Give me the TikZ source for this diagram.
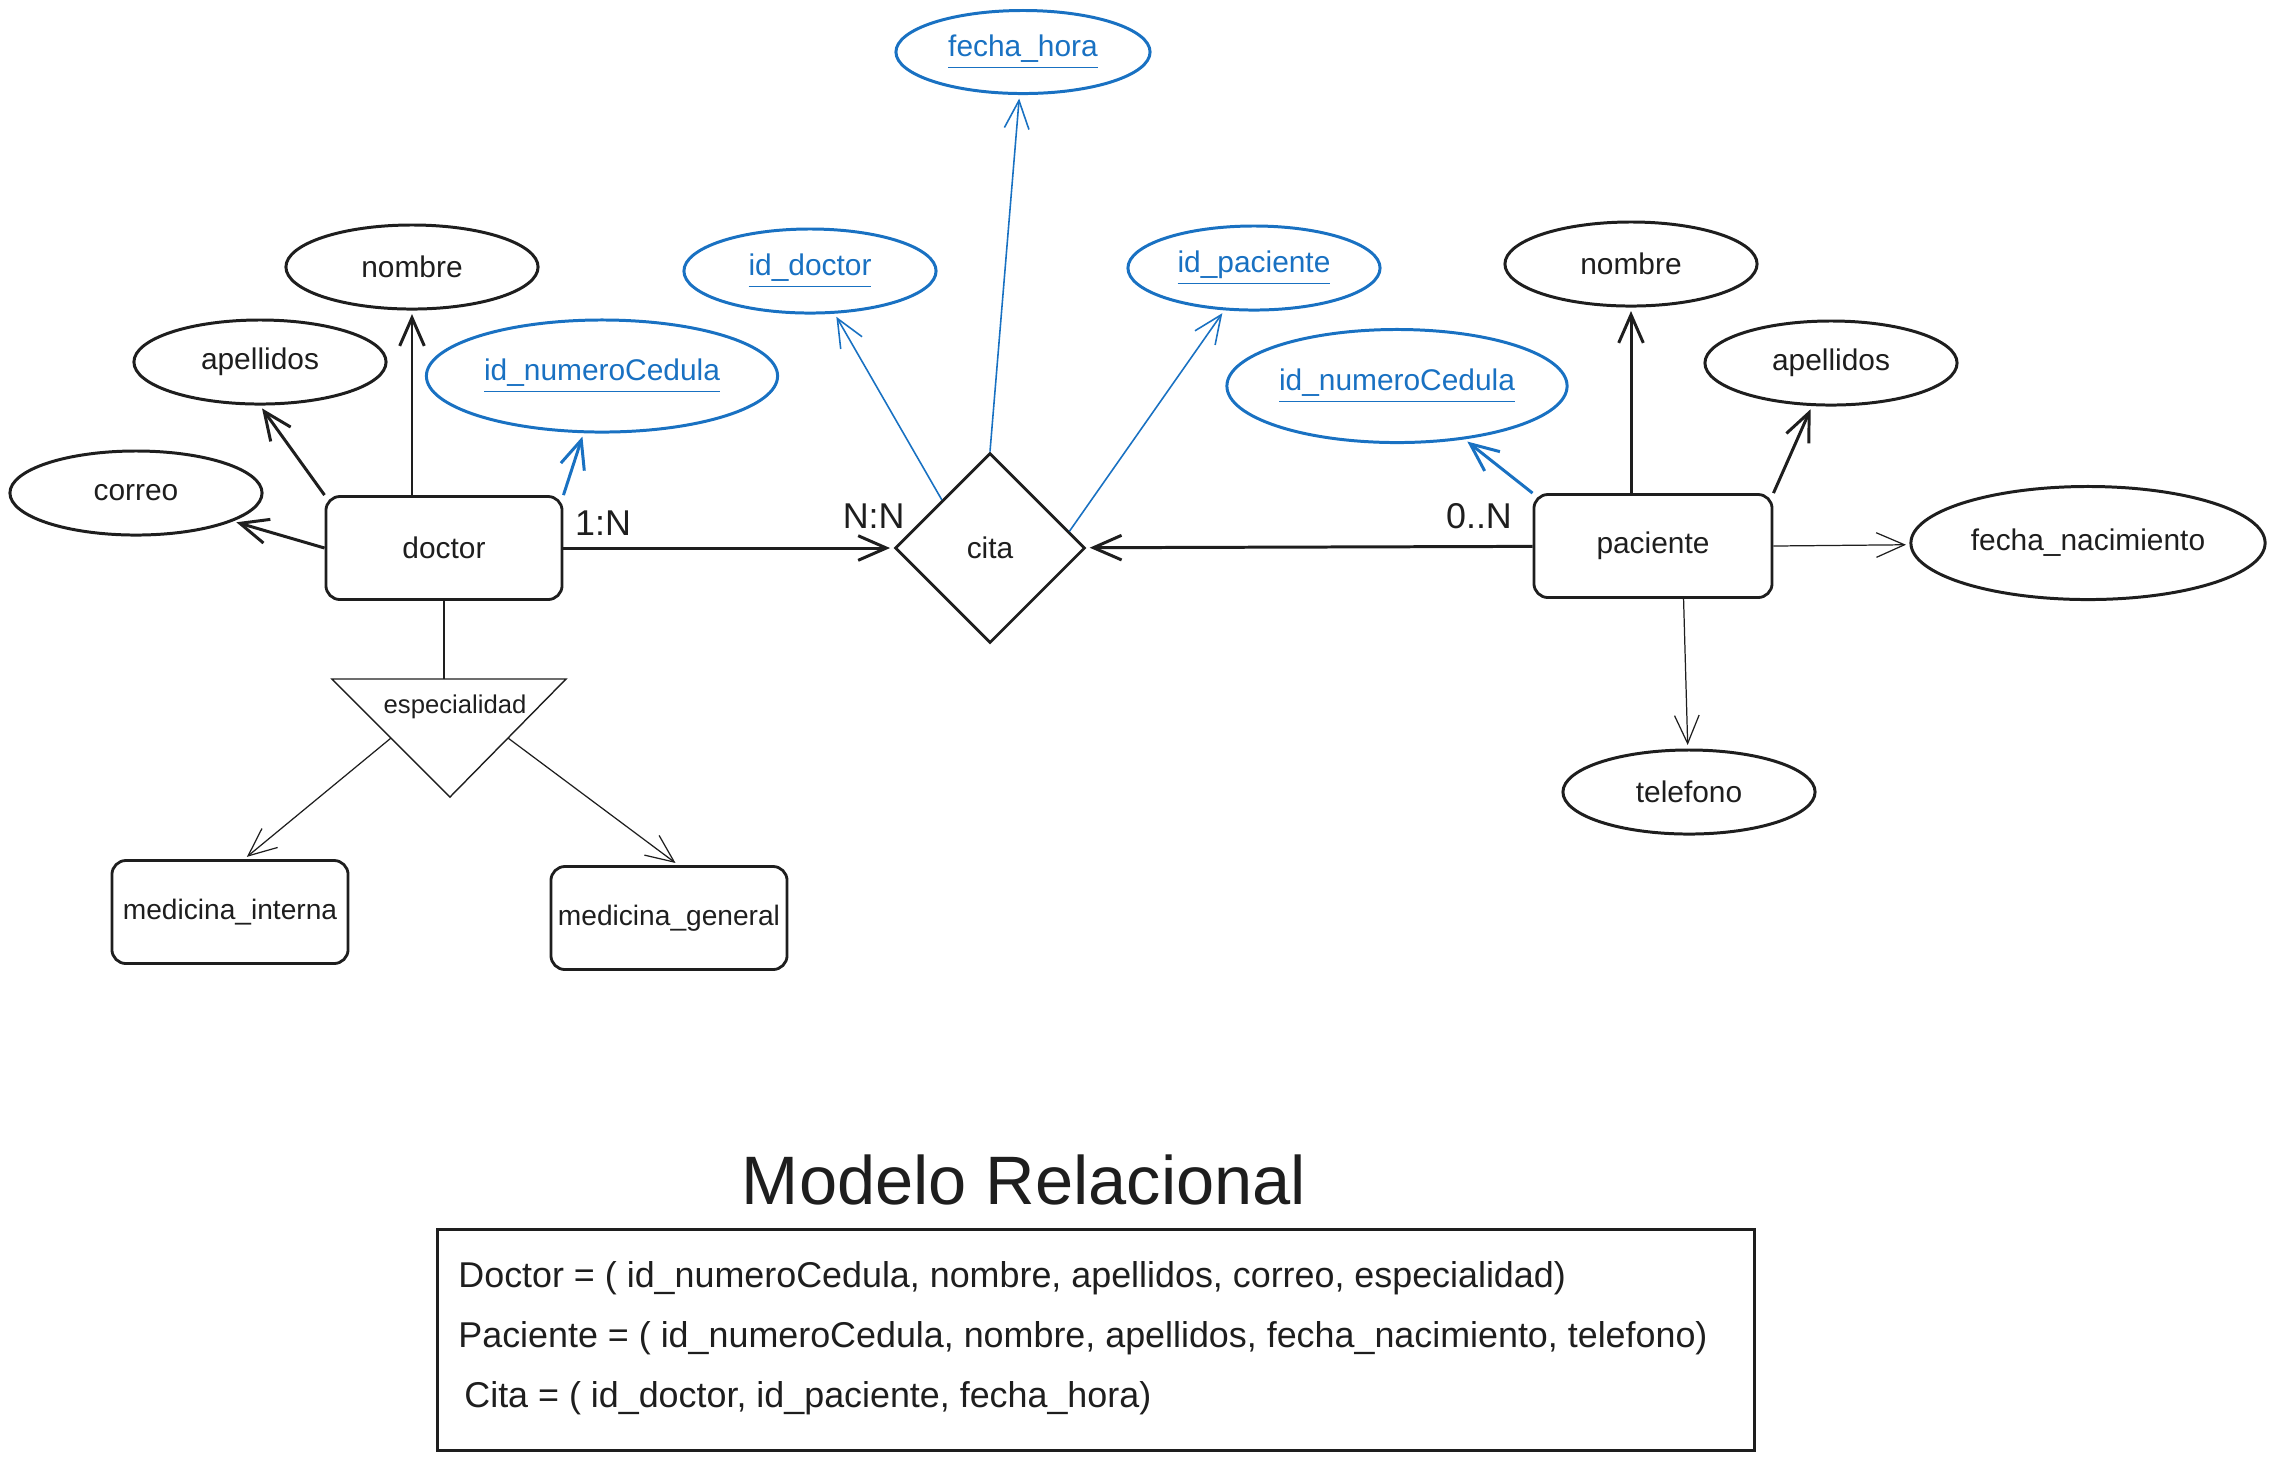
\documentclass[tikz,border=0pt]{standalone}
\usepackage{fontspec}
\setmainfont{Liberation Sans}
\usepackage{xcolor}
\usepackage{tikz}
\usetikzlibrary{arrows.meta,positioning,calc,shapes.geometric}
\definecolor{ink}{HTML}{1E1E1E}
\definecolor{keyblue}{HTML}{1971C2}

\begin{document}
\begin{tikzpicture}[x=0.01cm,y=-0.01cm,
    attr/.style={ellipse,draw=ink,text=ink,line width=0.85pt,inner sep=0pt,
        minimum width=2.52cm,minimum height=0.84cm,font=\fontsize{8.5}{10}\selectfont},
    keyattr/.style={attr,draw=keyblue,text=keyblue},
    entity/.style={rectangle,rounded corners=4pt,draw=ink,text=ink,line width=0.8pt,
        minimum width=2.36cm,minimum height=1.03cm,inner sep=0pt,font=\fontsize{8.5}{10}\selectfont},
    relation/.style={diamond,draw=ink,text=ink,line width=0.8pt,inner sep=0pt,
        minimum width=1.9cm,minimum height=1.9cm,font=\fontsize{8.5}{10}\selectfont},
    link/.style={draw=ink,line width=0.85pt,-{Straight Barb[length=8pt,width=7pt]},shorten >=1pt},
    thinlink/.style={link,line width=0.35pt},
    keylink/.style={link,draw=keyblue},
    card/.style={text=ink,inner sep=1pt,font=\fontsize{10.2}{12}\selectfont}]
    \useasboundingbox (0,0) rectangle (2275,1459);

    \node[attr] (nombreD) at (412,267) {nombre};
    \node[attr] (apellidosD) at (260,362) {apellidos};
    \node[attr] (correo) at (136,493) {correo};
    \node[keyattr,minimum width=3.51cm,minimum height=1.12cm] (cedulaD) at (602,376) {\underline{id\_numeroCedula}};
    \node[entity] (doctor) at (444,548) {doctor};

    \node[keyattr] (idDoctor) at (810,271) {\underline{id\_doctor}};
    \node[keyattr,minimum width=2.54cm,minimum height=0.83cm] (fechaHora) at (1023,52) {\underline{fecha\_hora}};
    \node[keyattr] (idPaciente) at (1254,268) {\underline{id\_paciente}};
    \node[relation] (cita) at (990,548) {cita};

    \node[keyattr,minimum width=3.4cm,minimum height=1.13cm] (cedulaP) at (1397,386) {\underline{id\_numeroCedula}};
    \node[attr] (nombreP) at (1631,264) {nombre};
    \node[attr] (apellidosP) at (1831,363) {apellidos};
    \node[attr,minimum width=3.54cm,minimum height=1.13cm] (fechaNac) at (2088,543) {fecha\_nacimiento};
    \node[entity,minimum width=2.38cm] (paciente) at (1653,546) {paciente};
    \node[attr] (telefono) at (1689,792) {telefono};

    \coordinate (espTL) at (332,679);
    \coordinate (espTR) at (566,679);
    \coordinate (espTip) at (450,797);
    \coordinate (espL) at ($(espTL)!0.5!(espTip)$);
    \coordinate (espR) at ($(espTR)!0.5!(espTip)$);
    \draw[ink,line width=0.4pt] (espTL) -- (espTR) -- (espTip) -- cycle;
    \node[text=ink,font=\fontsize{7.3}{9}\selectfont] (especialidad) at (455,707) {especialidad};
    \node[entity,font=\fontsize{8}{10}\selectfont] (medInterna) at (230,912) {medicina\_interna};
    \node[entity,font=\fontsize{8}{10}\selectfont] (medGeneral) at (669,918) {medicina\_general};

    \draw[link] (doctor.north -| nombreD) -- (nombreD.south);
    \draw[link] (doctor.north west) -- (apellidosD.south);
    \draw[link] (doctor.west) -- (correo);
    \draw[keylink] (doctor.north east) -- (cedulaD);
    \draw[ink,line width=0.35pt] (doctor.south) -- (doctor.south |- espTL);
    \draw[thinlink] (espL) -- (medInterna.75);
    \draw[thinlink] (espR) -- (medGeneral.80);
    \draw[link] (doctor) -- node[card,pos=0.12,above=2pt] {1:N} node[card,pos=0.94,above=4pt] {N:N} (cita);

    \draw[keylink,line width=0.45pt] (cita.north west) -- (idDoctor);
    \draw[keylink,line width=0.45pt] (cita.north) -- (fechaHora);
    \draw[keylink,line width=0.45pt] (cita.12) -- (idPaciente);

    \draw[link] (paciente) -- node[card,pos=0.12,above=3.5pt] {0..N} (cita);
    \draw[keylink] (paciente.north west) -- (cedulaP);
    \draw[link] (paciente.north -| nombreP) -- (nombreP.south);
    \draw[link] (paciente.north east) -- (apellidosP);
    \draw[thinlink] (paciente.east) -- (fechaNac);
    \draw[thinlink] (paciente.-60) -- (telefono);

    \node[text=ink,font=\fontsize{19.5}{23}\selectfont] (titulo) at (1024,1180) {Modelo Relacional};
    \node[draw=ink,line width=0.9pt,minimum width=13.16cm,minimum height=2.21cm] (relBox) at (1096,1340) {};
    \node[text=ink,anchor=west,align=left,font=\fontsize{10.2}{17}\selectfont] (relText) at (446,1338)
        {Doctor = ( id\_numeroCedula, nombre, apellidos, correo, especialidad)\\
         Paciente = ( id\_numeroCedula, nombre, apellidos, fecha\_nacimiento, telefono)\\
         \,Cita = ( id\_doctor, id\_paciente, fecha\_hora)};
\end{tikzpicture}
\end{document}
